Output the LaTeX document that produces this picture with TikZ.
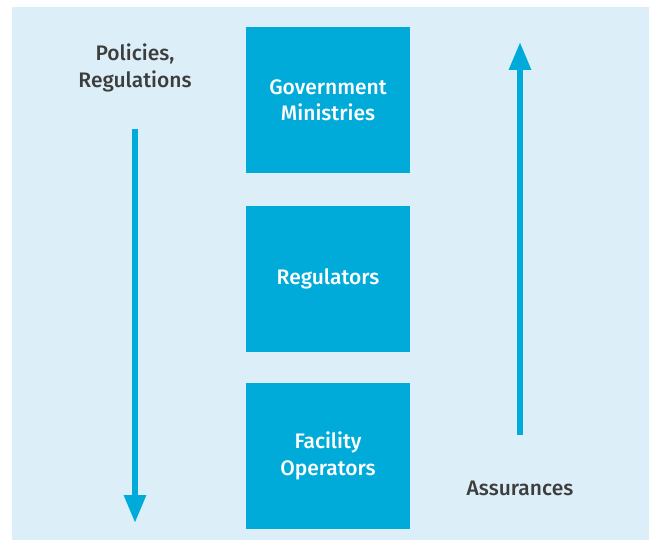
\documentclass[tikz,border=0pt]{standalone}
\usepackage{fontspec}
\setmainfont{Fira Sans}[BoldFont={Fira Sans Medium}]
\usetikzlibrary{arrows.meta}
\definecolor{bgblue}{HTML}{DCEEF8}
\definecolor{boxblue}{HTML}{00ABDA}
\definecolor{txtgray}{HTML}{3D3D3D}
\tikzset{
  level/.style={fill=boxblue,minimum width=164pt,minimum height=146pt,inner sep=0pt,
    text=white,align=center,font=\bfseries\fontsize{21}{26.5}\selectfont},
  side/.style={text=txtgray,align=center,font=\bfseries\fontsize{21}{26.5}\selectfont},
  flow/.style={boxblue,line width=6pt,-{Triangle[width=21pt,length=28pt]}}
}
\begin{document}
\begin{tikzpicture}[x=1pt,y=-1pt]
\useasboundingbox (0,0) rectangle (652,540);
\fill[bgblue] (12,7) rectangle (649,540);
% the three levels
\node[level] (gov) at (328,100) {Government\\Ministries};
\node[level] (reg) at (328,278.5) {Regulators};
\node[level] (fac) at (328,456) {Facility\\Operators};
% down: policies
\node[side] (pol) at (135,68) {Policies,\\Regulations};
\coordinate (downtop) at (135,129);
\coordinate (downend) at (135,523);
\draw[flow] (downtop) -- (downend);
% up: assurances
\node[side] (ass) at (520,488) {Assurances};
\coordinate (upbot) at (520,435);
\coordinate (upend) at (520,42);
\draw[flow] (upbot) -- (upend);
\end{tikzpicture}
\end{document}
